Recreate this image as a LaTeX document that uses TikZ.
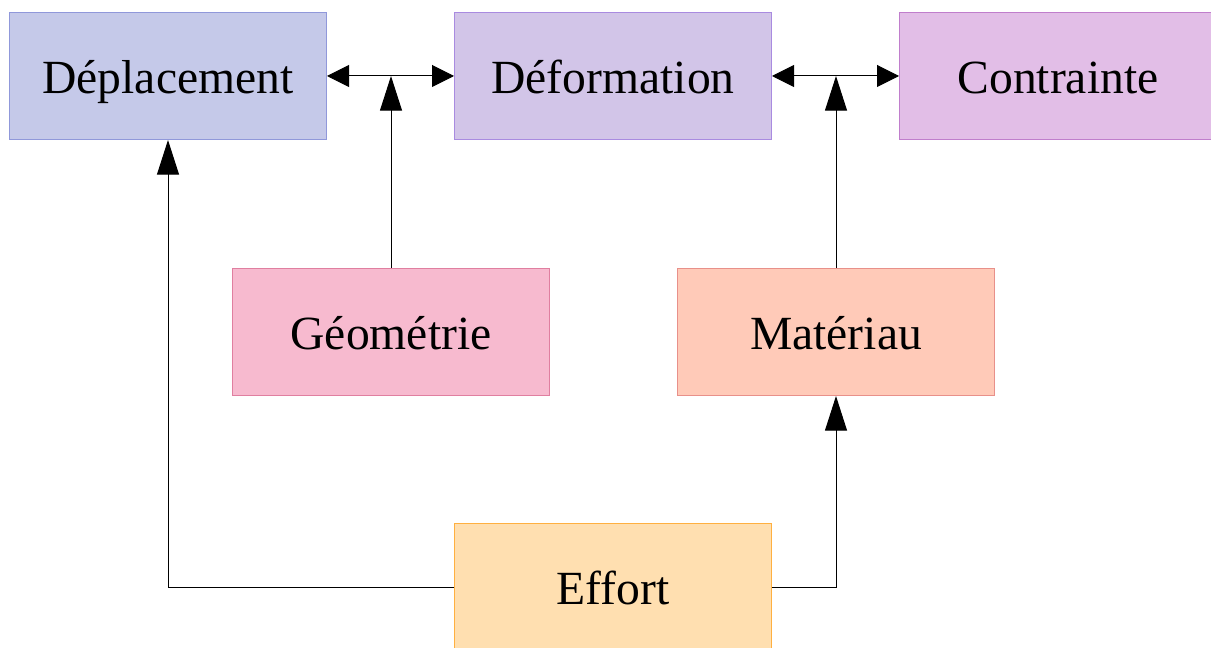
\documentclass[tikz,border=0pt]{standalone}
\usepackage{fontspec}
\setmainfont{Liberation Serif}
\usetikzlibrary{arrows.meta}
\definecolor{dplFill}{HTML}{C5C9E9}\definecolor{dplLine}{HTML}{9098DA}
\definecolor{dfmFill}{HTML}{D2C5E8}\definecolor{dfmLine}{HTML}{A98BE0}
\definecolor{ctrFill}{HTML}{E2BEE7}\definecolor{ctrLine}{HTML}{C07ECC}
\definecolor{geoFill}{HTML}{F7BACF}\definecolor{geoLine}{HTML}{E07FA0}
\definecolor{matFill}{HTML}{FFCAB8}\definecolor{matLine}{HTML}{E8908A}
\definecolor{effFill}{HTML}{FFDFB0}\definecolor{effLine}{HTML}{FFB040}
\begin{document}
\begin{tikzpicture}[x=0.75pt,y=-0.75pt,
  box/.style={draw=#1Line,fill=#1Fill,line width=0.75pt,minimum width=237.75pt,
    minimum height=95.25pt,inner sep=0pt,anchor=north west,
    text height=26pt,text depth=0pt,
    font=\fontsize{35.7pt}{40pt}\selectfont},
  link/.style={line width=0.75pt,draw=black},
  vhead/.style={-{Triangle[length=26pt,width=16.5pt]}}]
\useasboundingbox (0,0) rectangle (1211,648);
\node[box=dpl] (dpl) at (9,12) {Déplacement};
\node[box=dfm] (dfm) at (454,12) {Déformation};
\node[box=ctr] (ctr) at (899,12) {Contrainte};
\node[box=geo] (geo) at (232,268) {Géométrie};
\node[box=mat] (mat) at (677,268) {Matériau};
\node[box=eff] (eff) at (454,523) {Effort};
% double arrows between the top row
\draw[link,{Triangle[length=16.5pt,width=16.5pt]}-{Triangle[length=16.5pt,width=16.5pt]}] (dpl.east) -- (dfm.west) coordinate[pos=0.5] (m1);
\draw[link,{Triangle[length=16.5pt,width=16.5pt]}-{Triangle[length=16.5pt,width=16.5pt]}] (dfm.east) -- (ctr.west) coordinate[pos=0.5] (m2);
% influences into the relations
\draw[link,vhead] (geo.north) -- (geo.north |- m1);
\draw[link,vhead] (mat.north) -- (mat.north |- m2);
% load paths from the effort
\draw[link,vhead] (eff.west) -| (dpl.south);
\draw[link,vhead] (eff.east) -| (mat.south);
\end{tikzpicture}
\end{document}
